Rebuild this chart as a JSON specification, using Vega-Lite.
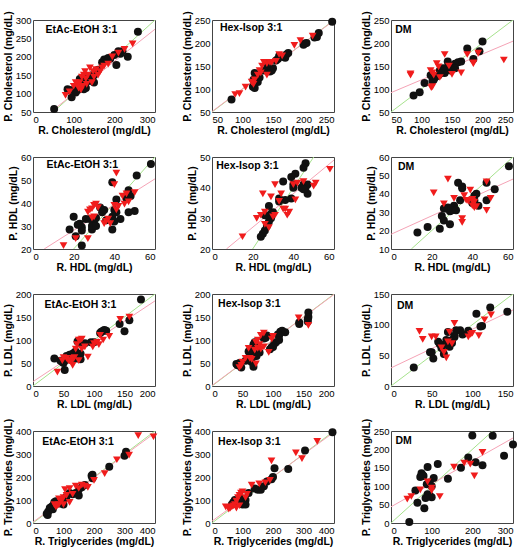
{
"$schema":"https://vega.github.io/schema/vega-lite/v6.json",
"padding":{"left":2,"top":10,"right":2,"bottom":0},
"config":{"view":{"stroke":"#444","strokeWidth":1},"axis":{"grid":false,"domain":false,"ticks":false,"labelPadding":2,"labelFont":"Liberation Sans","labelFontSize":9.5,"labelColor":"#000","titleFont":"Liberation Sans","titleFontSize":10.5,"titleFontWeight":"bold","titleColor":"#000","titlePadding":2}},
"datasets":{
"lines":[
{"p":1,"s":"g","x":50,"y":50},{"p":1,"s":"g","x":300,"y":300},{"p":1,"s":"r","x":43.5,"y":50},{"p":1,"s":"r","x":300,"y":275},
{"p":2,"s":"g","x":50,"y":50},{"p":2,"s":"g","x":250,"y":250},{"p":2,"s":"r","x":50,"y":51},{"p":2,"s":"r","x":250,"y":249},
{"p":3,"s":"g","x":50,"y":50},{"p":3,"s":"g","x":250,"y":250},{"p":3,"s":"r","x":50,"y":92},{"p":3,"s":"r","x":250,"y":204},
{"p":4,"s":"g","x":20,"y":20},{"p":4,"s":"g","x":60,"y":60},{"p":4,"s":"r","x":5.5,"y":20},{"p":4,"s":"r","x":60,"y":50.5},
{"p":5,"s":"g","x":20,"y":20},{"p":5,"s":"g","x":50,"y":50},{"p":5,"s":"r","x":7.1,"y":20},{"p":5,"s":"r","x":60,"y":49},
{"p":6,"s":"g","x":10,"y":10},{"p":6,"s":"g","x":60,"y":60},{"p":6,"s":"r","x":0,"y":18},{"p":6,"s":"r","x":60,"y":48},
{"p":7,"s":"g","x":0,"y":0},{"p":7,"s":"g","x":200,"y":200},{"p":7,"s":"r","x":0,"y":9.5},{"p":7,"s":"r","x":200,"y":185},
{"p":8,"s":"g","x":0,"y":0},{"p":8,"s":"g","x":200,"y":200},{"p":8,"s":"r","x":0,"y":1},{"p":8,"s":"r","x":200,"y":199},
{"p":9,"s":"g","x":0,"y":0},{"p":9,"s":"g","x":150,"y":150},{"p":9,"s":"r","x":0,"y":29.5},{"p":9,"s":"r","x":150,"y":124},
{"p":10,"s":"g","x":0,"y":0},{"p":10,"s":"g","x":400,"y":400},{"p":10,"s":"r","x":0,"y":4},{"p":10,"s":"r","x":400,"y":392},
{"p":11,"s":"g","x":0,"y":0},{"p":11,"s":"g","x":400,"y":400},{"p":11,"s":"r","x":0,"y":8},{"p":11,"s":"r","x":400,"y":395},
{"p":12,"s":"g","x":0,"y":0},{"p":12,"s":"g","x":250,"y":250},{"p":12,"s":"r","x":0,"y":44},{"p":12,"s":"r","x":300,"y":231}
],
"labels":[
{"p":1,"t":"EtAc-EtOH 3:1","x":31,"y":273},{"p":2,"t":"Hex-Isop 3:1","x":63,"y":232},{"p":3,"t":"DM","x":57,"y":228},
{"p":4,"t":"EtAc-EtOH 3:1","x":6.6,"y":56.6},{"p":5,"t":"Hex-Isop 3:1","x":2.1,"y":47.1},{"p":6,"t":"DM","x":3.4,"y":54.8},
{"p":7,"t":"EtAc-EtOH 3:1","x":19,"y":176},{"p":8,"t":"Hex-Isop 3:1","x":10,"y":178},{"p":9,"t":"DM","x":7.4,"y":131},
{"p":10,"t":"EtAc-EtOH 3:1","x":30,"y":352},{"p":11,"t":"Hex-Isop 3:1","x":20,"y":351},{"p":12,"t":"DM","x":11,"y":222}
],
"pts":[
{"p":1,"g":"B","x":258,"y":268},{"p":1,"g":"B","x":233,"y":200},{"p":1,"g":"B","x":205,"y":178},{"p":1,"g":"B","x":210,"y":215},{"p":1,"g":"B","x":215,"y":208},{"p":1,"g":"B","x":200,"y":205},{"p":1,"g":"B","x":190,"y":195},{"p":1,"g":"B","x":175,"y":193},{"p":1,"g":"B","x":180,"y":193},{"p":1,"g":"B","x":185,"y":197},{"p":1,"g":"B","x":170,"y":185},{"p":1,"g":"B","x":155,"y":160},{"p":1,"g":"B","x":150,"y":150},{"p":1,"g":"B","x":145,"y":150},{"p":1,"g":"B","x":140,"y":135},{"p":1,"g":"B","x":130,"y":130},{"p":1,"g":"B","x":125,"y":125},{"p":1,"g":"B","x":120,"y":130},{"p":1,"g":"B","x":115,"y":140},{"p":1,"g":"B","x":110,"y":110},{"p":1,"g":"B","x":105,"y":103},{"p":1,"g":"B","x":95,"y":90},{"p":1,"g":"B","x":85,"y":112},{"p":1,"g":"B","x":90,"y":110},{"p":1,"g":"B","x":135,"y":145},{"p":1,"g":"B","x":140,"y":140},{"p":1,"g":"B","x":125,"y":112},{"p":1,"g":"B","x":115,"y":120},{"p":1,"g":"B","x":160,"y":165},{"p":1,"g":"B","x":150,"y":130},{"p":1,"g":"B","x":130,"y":115},{"p":1,"g":"B","x":120,"y":135},{"p":1,"g":"B","x":100,"y":110},{"p":1,"g":"B","x":220,"y":215},{"p":1,"g":"B","x":52,"y":58},
{"p":1,"g":"R","x":245,"y":235},{"p":1,"g":"R","x":225,"y":220},{"p":1,"g":"R","x":210,"y":210},{"p":1,"g":"R","x":195,"y":200},{"p":1,"g":"R","x":185,"y":180},{"p":1,"g":"R","x":170,"y":170},{"p":1,"g":"R","x":165,"y":160},{"p":1,"g":"R","x":155,"y":165},{"p":1,"g":"R","x":148,"y":160},{"p":1,"g":"R","x":140,"y":170},{"p":1,"g":"R","x":135,"y":150},{"p":1,"g":"R","x":130,"y":140},{"p":1,"g":"R","x":125,"y":150},{"p":1,"g":"R","x":120,"y":145},{"p":1,"g":"R","x":115,"y":130},{"p":1,"g":"R","x":110,"y":125},{"p":1,"g":"R","x":105,"y":130},{"p":1,"g":"R","x":100,"y":120},{"p":1,"g":"R","x":90,"y":105},{"p":1,"g":"R","x":80,"y":95},{"p":1,"g":"R","x":128,"y":160},{"p":1,"g":"R","x":150,"y":145},{"p":1,"g":"R","x":175,"y":175},{"p":1,"g":"R","x":118,"y":110},{"p":1,"g":"R","x":132,"y":125},{"p":1,"g":"R","x":145,"y":130},{"p":1,"g":"R","x":160,"y":150},{"p":1,"g":"R","x":112,"y":115},{"p":1,"g":"R","x":122,"y":120},
{"p":2,"g":"B","x":247,"y":246},{"p":2,"g":"B","x":225,"y":222},{"p":2,"g":"B","x":222,"y":213},{"p":2,"g":"B","x":218,"y":212},{"p":2,"g":"B","x":205,"y":200},{"p":2,"g":"B","x":200,"y":196},{"p":2,"g":"B","x":202,"y":199},{"p":2,"g":"B","x":175,"y":178},{"p":2,"g":"B","x":172,"y":175},{"p":2,"g":"B","x":170,"y":168},{"p":2,"g":"B","x":160,"y":172},{"p":2,"g":"B","x":158,"y":165},{"p":2,"g":"B","x":155,"y":162},{"p":2,"g":"B","x":150,"y":145},{"p":2,"g":"B","x":148,"y":140},{"p":2,"g":"B","x":145,"y":138},{"p":2,"g":"B","x":140,"y":142},{"p":2,"g":"B","x":135,"y":140},{"p":2,"g":"B","x":125,"y":130},{"p":2,"g":"B","x":122,"y":128},{"p":2,"g":"B","x":120,"y":135},{"p":2,"g":"B","x":118,"y":120},{"p":2,"g":"B","x":117,"y":105},{"p":2,"g":"B","x":120,"y":102},{"p":2,"g":"B","x":125,"y":115},{"p":2,"g":"B","x":128,"y":125},{"p":2,"g":"B","x":82,"y":77},{"p":2,"g":"B","x":165,"y":170},{"p":2,"g":"B","x":140,"y":155},
{"p":2,"g":"R","x":215,"y":215},{"p":2,"g":"R","x":195,"y":205},{"p":2,"g":"R","x":185,"y":195},{"p":2,"g":"R","x":165,"y":172},{"p":2,"g":"R","x":160,"y":175},{"p":2,"g":"R","x":155,"y":160},{"p":2,"g":"R","x":148,"y":158},{"p":2,"g":"R","x":140,"y":155},{"p":2,"g":"R","x":135,"y":158},{"p":2,"g":"R","x":132,"y":150},{"p":2,"g":"R","x":130,"y":135},{"p":2,"g":"R","x":128,"y":140},{"p":2,"g":"R","x":125,"y":130},{"p":2,"g":"R","x":120,"y":120},{"p":2,"g":"R","x":118,"y":110},{"p":2,"g":"R","x":115,"y":115},{"p":2,"g":"R","x":105,"y":104},{"p":2,"g":"R","x":95,"y":90},{"p":2,"g":"R","x":88,"y":88},{"p":2,"g":"R","x":140,"y":130},{"p":2,"g":"R","x":145,"y":158},
{"p":3,"g":"B","x":200,"y":203},{"p":3,"g":"B","x":195,"y":182},{"p":3,"g":"B","x":175,"y":188},{"p":3,"g":"B","x":185,"y":165},{"p":3,"g":"B","x":165,"y":160},{"p":3,"g":"B","x":160,"y":158},{"p":3,"g":"B","x":155,"y":155},{"p":3,"g":"B","x":150,"y":150},{"p":3,"g":"B","x":145,"y":148},{"p":3,"g":"B","x":143,"y":160},{"p":3,"g":"B","x":140,"y":145},{"p":3,"g":"B","x":135,"y":145},{"p":3,"g":"B","x":130,"y":140},{"p":3,"g":"B","x":128,"y":130},{"p":3,"g":"B","x":125,"y":128},{"p":3,"g":"B","x":122,"y":125},{"p":3,"g":"B","x":120,"y":120},{"p":3,"g":"B","x":118,"y":118},{"p":3,"g":"B","x":115,"y":130},{"p":3,"g":"B","x":105,"y":113},{"p":3,"g":"B","x":97,"y":93},{"p":3,"g":"B","x":87,"y":86},{"p":3,"g":"B","x":148,"y":140},{"p":3,"g":"B","x":138,"y":135},{"p":3,"g":"B","x":132,"y":135},{"p":3,"g":"B","x":155,"y":145},
{"p":3,"g":"R","x":82,"y":133},{"p":3,"g":"R","x":82,"y":130},{"p":3,"g":"R","x":115,"y":140},{"p":3,"g":"R","x":118,"y":135},{"p":3,"g":"R","x":116,"y":103},{"p":3,"g":"R","x":118,"y":105},{"p":3,"g":"R","x":125,"y":155},{"p":3,"g":"R","x":128,"y":148},{"p":3,"g":"R","x":138,"y":175},{"p":3,"g":"R","x":150,"y":132},{"p":3,"g":"R","x":165,"y":135},{"p":3,"g":"R","x":175,"y":175},{"p":3,"g":"R","x":185,"y":157},{"p":3,"g":"R","x":185,"y":155},{"p":3,"g":"R","x":193,"y":178},{"p":3,"g":"R","x":235,"y":163},{"p":3,"g":"R","x":145,"y":150},{"p":3,"g":"R","x":120,"y":130},{"p":3,"g":"R","x":130,"y":125},
{"p":4,"g":"B","x":58,"y":57},{"p":4,"g":"B","x":51,"y":52},{"p":4,"g":"B","x":47,"y":45.5},{"p":4,"g":"B","x":48,"y":43},{"p":4,"g":"B","x":46,"y":42},{"p":4,"g":"B","x":50,"y":36.5},{"p":4,"g":"B","x":47,"y":36},{"p":4,"g":"B","x":43,"y":33},{"p":4,"g":"B","x":39,"y":49},{"p":4,"g":"B","x":41,"y":41.5},{"p":4,"g":"B","x":40,"y":37},{"p":4,"g":"B","x":41,"y":36},{"p":4,"g":"B","x":39,"y":34},{"p":4,"g":"B","x":40,"y":32},{"p":4,"g":"B","x":39,"y":28.5},{"p":4,"g":"B","x":36,"y":32.5},{"p":4,"g":"B","x":35,"y":37},{"p":4,"g":"B","x":33,"y":38},{"p":4,"g":"B","x":30,"y":32},{"p":4,"g":"B","x":31,"y":33.5},{"p":4,"g":"B","x":29,"y":28.5},{"p":4,"g":"B","x":29,"y":30},{"p":4,"g":"B","x":26,"y":33},{"p":4,"g":"B","x":24,"y":29.5},{"p":4,"g":"B","x":24,"y":28},{"p":4,"g":"B","x":23,"y":31},{"p":4,"g":"B","x":22,"y":30.5},{"p":4,"g":"B","x":20,"y":34},{"p":4,"g":"B","x":21,"y":25.5},{"p":4,"g":"B","x":18,"y":28.5},{"p":4,"g":"B","x":24,"y":21.5},{"p":4,"g":"B","x":31,"y":30},{"p":4,"g":"B","x":28,"y":33},{"p":4,"g":"B","x":34,"y":36},
{"p":4,"g":"R","x":41,"y":53},{"p":4,"g":"R","x":40,"y":48},{"p":4,"g":"R","x":40,"y":39},{"p":4,"g":"R","x":38,"y":31},{"p":4,"g":"R","x":36,"y":32},{"p":4,"g":"R","x":37,"y":33},{"p":4,"g":"R","x":41,"y":37},{"p":4,"g":"R","x":44,"y":43},{"p":4,"g":"R","x":46,"y":44},{"p":4,"g":"R","x":47,"y":40.5},{"p":4,"g":"R","x":45,"y":39.5},{"p":4,"g":"R","x":50,"y":44.5},{"p":4,"g":"R","x":31,"y":39.5},{"p":4,"g":"R","x":30,"y":39},{"p":4,"g":"R","x":29,"y":37.5},{"p":4,"g":"R","x":28,"y":37},{"p":4,"g":"R","x":27,"y":36},{"p":4,"g":"R","x":32,"y":38},{"p":4,"g":"R","x":30,"y":34},{"p":4,"g":"R","x":29,"y":33.5},{"p":4,"g":"R","x":27,"y":24.5},{"p":4,"g":"R","x":21,"y":24.5},{"p":4,"g":"R","x":15,"y":21.5},{"p":4,"g":"R","x":35,"y":31},{"p":4,"g":"R","x":42,"y":38.5},
{"p":5,"g":"B","x":46,"y":48},{"p":5,"g":"B","x":45,"y":46.5},{"p":5,"g":"B","x":41,"y":44.5},{"p":5,"g":"B","x":39,"y":43.5},{"p":5,"g":"B","x":35,"y":42},{"p":5,"g":"B","x":40,"y":41},{"p":5,"g":"B","x":40,"y":40},{"p":5,"g":"B","x":45,"y":41},{"p":5,"g":"B","x":46,"y":40},{"p":5,"g":"B","x":47,"y":41},{"p":5,"g":"B","x":47,"y":38},{"p":5,"g":"B","x":44,"y":40},{"p":5,"g":"B","x":45,"y":39.5},{"p":5,"g":"B","x":39,"y":36.5},{"p":5,"g":"B","x":36,"y":36},{"p":5,"g":"B","x":33,"y":36.5},{"p":5,"g":"B","x":33,"y":35.5},{"p":5,"g":"B","x":30,"y":32},{"p":5,"g":"B","x":29,"y":31.5},{"p":5,"g":"B","x":28,"y":34},{"p":5,"g":"B","x":28,"y":29},{"p":5,"g":"B","x":27,"y":27.5},{"p":5,"g":"B","x":26,"y":26},{"p":5,"g":"B","x":25,"y":25},{"p":5,"g":"B","x":24,"y":24},{"p":5,"g":"B","x":29,"y":30},{"p":5,"g":"B","x":26,"y":31},
{"p":5,"g":"R","x":58,"y":46},{"p":5,"g":"R","x":51,"y":41.5},{"p":5,"g":"R","x":50,"y":40.5},{"p":5,"g":"R","x":45,"y":42},{"p":5,"g":"R","x":42,"y":41.5},{"p":5,"g":"R","x":40,"y":41},{"p":5,"g":"R","x":31,"y":41},{"p":5,"g":"R","x":25,"y":38},{"p":5,"g":"R","x":29,"y":37},{"p":5,"g":"R","x":34,"y":38},{"p":5,"g":"R","x":33,"y":35.5},{"p":5,"g":"R","x":36,"y":33},{"p":5,"g":"R","x":35,"y":33},{"p":5,"g":"R","x":38,"y":32},{"p":5,"g":"R","x":37,"y":31},{"p":5,"g":"R","x":41,"y":36},{"p":5,"g":"R","x":31,"y":31},{"p":5,"g":"R","x":30,"y":30.5},{"p":5,"g":"R","x":26,"y":32},{"p":5,"g":"R","x":24,"y":31},{"p":5,"g":"R","x":22,"y":30},{"p":5,"g":"R","x":26,"y":28},{"p":5,"g":"R","x":28,"y":27},{"p":5,"g":"R","x":15,"y":24},
{"p":6,"g":"B","x":58,"y":55},{"p":6,"g":"B","x":51,"y":42.5},{"p":6,"g":"B","x":47,"y":46},{"p":6,"g":"B","x":47,"y":36.5},{"p":6,"g":"B","x":43,"y":33.5},{"p":6,"g":"B","x":41,"y":39},{"p":6,"g":"B","x":42,"y":40},{"p":6,"g":"B","x":40,"y":36},{"p":6,"g":"B","x":40,"y":35},{"p":6,"g":"B","x":35,"y":44},{"p":6,"g":"B","x":35,"y":43},{"p":6,"g":"B","x":33,"y":46},{"p":6,"g":"B","x":34,"y":36.5},{"p":6,"g":"B","x":31,"y":33.5},{"p":6,"g":"B","x":30,"y":32},{"p":6,"g":"B","x":29,"y":30.5},{"p":6,"g":"B","x":30,"y":31},{"p":6,"g":"B","x":28,"y":32.5},{"p":6,"g":"B","x":27,"y":32},{"p":6,"g":"B","x":26,"y":32},{"p":6,"g":"B","x":25,"y":28},{"p":6,"g":"B","x":26,"y":25.5},{"p":6,"g":"B","x":24,"y":21},{"p":6,"g":"B","x":29,"y":23.5},{"p":6,"g":"B","x":18,"y":22},{"p":6,"g":"B","x":13,"y":19},{"p":6,"g":"B","x":32,"y":31},{"p":6,"g":"B","x":41,"y":36.5},
{"p":6,"g":"R","x":21,"y":40.5},{"p":6,"g":"R","x":28,"y":48},{"p":6,"g":"R","x":26,"y":34.5},{"p":6,"g":"R","x":31,"y":37.5},{"p":6,"g":"R","x":36,"y":39},{"p":6,"g":"R","x":37,"y":36.5},{"p":6,"g":"R","x":39,"y":42},{"p":6,"g":"R","x":40,"y":37},{"p":6,"g":"R","x":40,"y":36},{"p":6,"g":"R","x":41,"y":35.5},{"p":6,"g":"R","x":40,"y":33.5},{"p":6,"g":"R","x":41,"y":32.5},{"p":6,"g":"R","x":35,"y":26.5},{"p":6,"g":"R","x":35,"y":24.5},{"p":6,"g":"R","x":47,"y":46.5},{"p":6,"g":"R","x":49,"y":37.5},{"p":6,"g":"R","x":47,"y":31},{"p":6,"g":"R","x":38,"y":36},{"p":6,"g":"R","x":42,"y":33},
{"p":7,"g":"B","x":177,"y":188},{"p":7,"g":"B","x":158,"y":143},{"p":7,"g":"B","x":150,"y":119},{"p":7,"g":"B","x":142,"y":135},{"p":7,"g":"B","x":120,"y":120},{"p":7,"g":"B","x":117,"y":122},{"p":7,"g":"B","x":115,"y":120},{"p":7,"g":"B","x":112,"y":118},{"p":7,"g":"B","x":110,"y":115},{"p":7,"g":"B","x":100,"y":95},{"p":7,"g":"B","x":95,"y":95},{"p":7,"g":"B","x":85,"y":93},{"p":7,"g":"B","x":80,"y":92},{"p":7,"g":"B","x":78,"y":70},{"p":7,"g":"B","x":75,"y":65},{"p":7,"g":"B","x":73,"y":97},{"p":7,"g":"B","x":70,"y":75},{"p":7,"g":"B","x":68,"y":73},{"p":7,"g":"B","x":65,"y":70},{"p":7,"g":"B","x":62,"y":60},{"p":7,"g":"B","x":60,"y":68},{"p":7,"g":"B","x":55,"y":65},{"p":7,"g":"B","x":52,"y":55},{"p":7,"g":"B","x":50,"y":50},{"p":7,"g":"B","x":48,"y":52},{"p":7,"g":"B","x":45,"y":55},{"p":7,"g":"B","x":52,"y":35},{"p":7,"g":"B","x":35,"y":60},{"p":7,"g":"B","x":72,"y":60},{"p":7,"g":"B","x":78,"y":58},{"p":7,"g":"B","x":62,"y":57},
{"p":7,"g":"R","x":158,"y":150},{"p":7,"g":"R","x":143,"y":145},{"p":7,"g":"R","x":125,"y":108},{"p":7,"g":"R","x":115,"y":100},{"p":7,"g":"R","x":110,"y":110},{"p":7,"g":"R","x":108,"y":90},{"p":7,"g":"R","x":105,"y":95},{"p":7,"g":"R","x":100,"y":92},{"p":7,"g":"R","x":98,"y":85},{"p":7,"g":"R","x":90,"y":63},{"p":7,"g":"R","x":85,"y":85},{"p":7,"g":"R","x":80,"y":80},{"p":7,"g":"R","x":78,"y":100},{"p":7,"g":"R","x":75,"y":100},{"p":7,"g":"R","x":72,"y":90},{"p":7,"g":"R","x":70,"y":80},{"p":7,"g":"R","x":68,"y":62},{"p":7,"g":"R","x":65,"y":60},{"p":7,"g":"R","x":63,"y":52},{"p":7,"g":"R","x":60,"y":55},{"p":7,"g":"R","x":58,"y":55},{"p":7,"g":"R","x":55,"y":60},{"p":7,"g":"R","x":50,"y":62},{"p":7,"g":"R","x":48,"y":55},{"p":7,"g":"R","x":40,"y":30},{"p":7,"g":"R","x":65,"y":45},{"p":7,"g":"R","x":80,"y":102},{"p":7,"g":"R","x":75,"y":55},
{"p":8,"g":"B","x":158,"y":160},{"p":8,"g":"B","x":158,"y":150},{"p":8,"g":"B","x":157,"y":145},{"p":8,"g":"B","x":157,"y":140},{"p":8,"g":"B","x":143,"y":135},{"p":8,"g":"B","x":143,"y":138},{"p":8,"g":"B","x":120,"y":117},{"p":8,"g":"B","x":115,"y":120},{"p":8,"g":"B","x":112,"y":118},{"p":8,"g":"B","x":110,"y":110},{"p":8,"g":"B","x":108,"y":112},{"p":8,"g":"B","x":105,"y":95},{"p":8,"g":"B","x":102,"y":92},{"p":8,"g":"B","x":100,"y":85},{"p":8,"g":"B","x":98,"y":85},{"p":8,"g":"B","x":95,"y":80},{"p":8,"g":"B","x":90,"y":110},{"p":8,"g":"B","x":88,"y":105},{"p":8,"g":"B","x":85,"y":103},{"p":8,"g":"B","x":70,"y":95},{"p":8,"g":"B","x":68,"y":90},{"p":8,"g":"B","x":65,"y":80},{"p":8,"g":"B","x":65,"y":75},{"p":8,"g":"B","x":62,"y":73},{"p":8,"g":"B","x":63,"y":55},{"p":8,"g":"B","x":65,"y":52},{"p":8,"g":"B","x":68,"y":42},{"p":8,"g":"B","x":45,"y":50},{"p":8,"g":"B","x":42,"y":45},{"p":8,"g":"B","x":40,"y":48},{"p":8,"g":"B","x":48,"y":40},{"p":8,"g":"B","x":55,"y":55},{"p":8,"g":"B","x":60,"y":75},{"p":8,"g":"B","x":73,"y":65},{"p":8,"g":"B","x":78,"y":73},{"p":8,"g":"B","x":110,"y":100},
{"p":8,"g":"R","x":158,"y":132},{"p":8,"g":"R","x":142,"y":148},{"p":8,"g":"R","x":100,"y":108},{"p":8,"g":"R","x":98,"y":102},{"p":8,"g":"R","x":85,"y":115},{"p":8,"g":"R","x":80,"y":110},{"p":8,"g":"R","x":75,"y":100},{"p":8,"g":"R","x":72,"y":95},{"p":8,"g":"R","x":78,"y":90},{"p":8,"g":"R","x":75,"y":82},{"p":8,"g":"R","x":70,"y":78},{"p":8,"g":"R","x":80,"y":80},{"p":8,"g":"R","x":93,"y":73},{"p":8,"g":"R","x":60,"y":82},{"p":8,"g":"R","x":55,"y":60},{"p":8,"g":"R","x":50,"y":52},{"p":8,"g":"R","x":48,"y":45},{"p":8,"g":"R","x":45,"y":40},{"p":8,"g":"R","x":72,"y":48},{"p":8,"g":"R","x":62,"y":60},{"p":8,"g":"R","x":65,"y":58},{"p":8,"g":"R","x":85,"y":85},
{"p":9,"g":"B","x":143,"y":121},{"p":9,"g":"B","x":122,"y":128},{"p":9,"g":"B","x":112,"y":98},{"p":9,"g":"B","x":110,"y":97},{"p":9,"g":"B","x":105,"y":118},{"p":9,"g":"B","x":95,"y":90},{"p":9,"g":"B","x":88,"y":84},{"p":9,"g":"B","x":85,"y":91},{"p":9,"g":"B","x":80,"y":91},{"p":9,"g":"B","x":78,"y":80},{"p":9,"g":"B","x":78,"y":82},{"p":9,"g":"B","x":75,"y":75},{"p":9,"g":"B","x":72,"y":64},{"p":9,"g":"B","x":70,"y":88},{"p":9,"g":"B","x":68,"y":75},{"p":9,"g":"B","x":65,"y":67},{"p":9,"g":"B","x":62,"y":62},{"p":9,"g":"B","x":60,"y":68},{"p":9,"g":"B","x":58,"y":72},{"p":9,"g":"B","x":50,"y":55},{"p":9,"g":"B","x":48,"y":55},{"p":9,"g":"B","x":52,"y":45},{"p":9,"g":"B","x":28,"y":30},{"p":9,"g":"B","x":65,"y":52},{"p":9,"g":"B","x":75,"y":70},
{"p":9,"g":"R","x":35,"y":89},{"p":9,"g":"R","x":39,"y":76},{"p":9,"g":"R","x":50,"y":80},{"p":9,"g":"R","x":55,"y":80},{"p":9,"g":"R","x":62,"y":62},{"p":9,"g":"R","x":65,"y":55},{"p":9,"g":"R","x":68,"y":46},{"p":9,"g":"R","x":70,"y":72},{"p":9,"g":"R","x":72,"y":88},{"p":9,"g":"R","x":78,"y":102},{"p":9,"g":"R","x":95,"y":80},{"p":9,"g":"R","x":100,"y":86},{"p":9,"g":"R","x":98,"y":84},{"p":9,"g":"R","x":108,"y":82},{"p":9,"g":"R","x":115,"y":108},{"p":9,"g":"R","x":123,"y":116},{"p":9,"g":"R","x":75,"y":69},
{"p":10,"g":"B","x":305,"y":310},{"p":10,"g":"B","x":300,"y":292},{"p":10,"g":"B","x":250,"y":245},{"p":10,"g":"B","x":195,"y":210},{"p":10,"g":"B","x":192,"y":205},{"p":10,"g":"B","x":195,"y":195},{"p":10,"g":"B","x":170,"y":165},{"p":10,"g":"B","x":160,"y":155},{"p":10,"g":"B","x":150,"y":145},{"p":10,"g":"B","x":140,"y":130},{"p":10,"g":"B","x":130,"y":125},{"p":10,"g":"B","x":120,"y":130},{"p":10,"g":"B","x":110,"y":115},{"p":10,"g":"B","x":100,"y":100},{"p":10,"g":"B","x":95,"y":95},{"p":10,"g":"B","x":90,"y":85},{"p":10,"g":"B","x":80,"y":85},{"p":10,"g":"B","x":75,"y":95},{"p":10,"g":"B","x":70,"y":90},{"p":10,"g":"B","x":65,"y":75},{"p":10,"g":"B","x":60,"y":70},{"p":10,"g":"B","x":55,"y":65},{"p":10,"g":"B","x":50,"y":50},{"p":10,"g":"B","x":45,"y":40},{"p":10,"g":"B","x":48,"y":35},{"p":10,"g":"B","x":65,"y":60},{"p":10,"g":"B","x":100,"y":80},{"p":10,"g":"B","x":150,"y":120},
{"p":10,"g":"R","x":395,"y":375},{"p":10,"g":"R","x":345,"y":380},{"p":10,"g":"R","x":315,"y":295},{"p":10,"g":"R","x":275,"y":275},{"p":10,"g":"R","x":235,"y":215},{"p":10,"g":"R","x":200,"y":185},{"p":10,"g":"R","x":180,"y":155},{"p":10,"g":"R","x":170,"y":160},{"p":10,"g":"R","x":140,"y":160},{"p":10,"g":"R","x":130,"y":125},{"p":10,"g":"R","x":120,"y":150},{"p":10,"g":"R","x":110,"y":120},{"p":10,"g":"R","x":105,"y":145},{"p":10,"g":"R","x":100,"y":110},{"p":10,"g":"R","x":95,"y":100},{"p":10,"g":"R","x":90,"y":95},{"p":10,"g":"R","x":85,"y":80},{"p":10,"g":"R","x":80,"y":75},{"p":10,"g":"R","x":75,"y":70},{"p":10,"g":"R","x":120,"y":90},{"p":10,"g":"R","x":70,"y":80},{"p":10,"g":"R","x":150,"y":150},{"p":10,"g":"R","x":160,"y":165},{"p":10,"g":"R","x":85,"y":105},{"p":10,"g":"R","x":100,"y":80},
{"p":11,"g":"B","x":395,"y":395},{"p":11,"g":"B","x":305,"y":315},{"p":11,"g":"B","x":250,"y":235},{"p":11,"g":"B","x":205,"y":238},{"p":11,"g":"B","x":200,"y":200},{"p":11,"g":"B","x":195,"y":190},{"p":11,"g":"B","x":180,"y":180},{"p":11,"g":"B","x":170,"y":160},{"p":11,"g":"B","x":160,"y":145},{"p":11,"g":"B","x":150,"y":145},{"p":11,"g":"B","x":140,"y":150},{"p":11,"g":"B","x":120,"y":130},{"p":11,"g":"B","x":110,"y":100},{"p":11,"g":"B","x":105,"y":95},{"p":11,"g":"B","x":100,"y":90},{"p":11,"g":"B","x":100,"y":80},{"p":11,"g":"B","x":95,"y":85},{"p":11,"g":"B","x":90,"y":100},{"p":11,"g":"B","x":80,"y":90},{"p":11,"g":"B","x":75,"y":100},{"p":11,"g":"B","x":70,"y":90},{"p":11,"g":"B","x":65,"y":80},{"p":11,"g":"B","x":90,"y":110},{"p":11,"g":"B","x":110,"y":80},
{"p":11,"g":"R","x":345,"y":355},{"p":11,"g":"R","x":295,"y":280},{"p":11,"g":"R","x":275,"y":305},{"p":11,"g":"R","x":195,"y":270},{"p":11,"g":"R","x":190,"y":185},{"p":11,"g":"R","x":175,"y":175},{"p":11,"g":"R","x":155,"y":170},{"p":11,"g":"R","x":130,"y":165},{"p":11,"g":"R","x":115,"y":125},{"p":11,"g":"R","x":110,"y":110},{"p":11,"g":"R","x":100,"y":135},{"p":11,"g":"R","x":95,"y":130},{"p":11,"g":"R","x":90,"y":120},{"p":11,"g":"R","x":85,"y":110},{"p":11,"g":"R","x":80,"y":95},{"p":11,"g":"R","x":75,"y":80},{"p":11,"g":"R","x":70,"y":75},{"p":11,"g":"R","x":65,"y":70},{"p":11,"g":"R","x":60,"y":65},{"p":11,"g":"R","x":45,"y":70},{"p":11,"g":"R","x":55,"y":60},{"p":11,"g":"R","x":80,"y":65},{"p":11,"g":"R","x":90,"y":75},
{"p":12,"g":"B","x":300,"y":213},{"p":12,"g":"B","x":278,"y":183},{"p":12,"g":"B","x":250,"y":237},{"p":12,"g":"B","x":200,"y":238},{"p":12,"g":"B","x":208,"y":165},{"p":12,"g":"B","x":225,"y":157},{"p":12,"g":"B","x":190,"y":178},{"p":12,"g":"B","x":172,"y":150},{"p":12,"g":"B","x":140,"y":120},{"p":12,"g":"B","x":115,"y":160},{"p":12,"g":"B","x":105,"y":122},{"p":12,"g":"B","x":90,"y":152},{"p":12,"g":"B","x":75,"y":135},{"p":12,"g":"B","x":78,"y":130},{"p":12,"g":"B","x":72,"y":125},{"p":12,"g":"B","x":80,"y":128},{"p":12,"g":"B","x":95,"y":110},{"p":12,"g":"B","x":88,"y":105},{"p":12,"g":"B","x":90,"y":78},{"p":12,"g":"B","x":95,"y":75},{"p":12,"g":"B","x":100,"y":70},{"p":12,"g":"B","x":85,"y":68},{"p":12,"g":"B","x":82,"y":40},{"p":12,"g":"B","x":65,"y":55},{"p":12,"g":"B","x":60,"y":88},{"p":12,"g":"B","x":45,"y":3},{"p":12,"g":"B","x":100,"y":100},
{"p":12,"g":"R","x":40,"y":65},{"p":12,"g":"R","x":50,"y":72},{"p":12,"g":"R","x":72,"y":90},{"p":12,"g":"R","x":90,"y":112},{"p":12,"g":"R","x":100,"y":95},{"p":12,"g":"R","x":100,"y":88},{"p":12,"g":"R","x":120,"y":72},{"p":12,"g":"R","x":155,"y":152},{"p":12,"g":"R","x":180,"y":163},{"p":12,"g":"R","x":195,"y":160},{"p":12,"g":"R","x":205,"y":128},{"p":12,"g":"R","x":225,"y":192}
]
},
"columns":3,
"bounds":"flush",
"spacing":{"row":45,"column":57},
"concat":[
{"width":122,"height":92,"encoding":{"x":{"field":"x","type":"quantitative","scale":{"domain":[0,300],"nice":false,"zero":false},"axis":{"values":[0,100,200,300],"title":"R. Cholesterol (mg/dL)"}},"y":{"field":"y","type":"quantitative","scale":{"domain":[50,300],"nice":false,"zero":false},"axis":{"values":[50,100,150,200,250,300],"title":"P. Cholesterol (mg/dL)"}}},
"layer":[
{"data":{"name":"lines"},"transform":[{"filter":"datum.p==1"}],"mark":{"type":"line","clip":true,"strokeWidth":1},"encoding":{"stroke":{"field":"s","type":"nominal","scale":{"domain":["g","r"],"range":["#a6e28c","#f5a3b6"]},"legend":null}}},
{"data":{"name":"pts"},"transform":[{"filter":"datum.p==1 && datum.g=='B'"}],"mark":{"type":"point","shape":"circle","filled":true,"color":"#111","opacity":1,"size":64}},
{"data":{"name":"pts"},"transform":[{"filter":"datum.p==1 && datum.g=='R'"}],"mark":{"type":"point","shape":"triangle-down","filled":true,"color":"#f01c1c","opacity":1,"size":60}},
{"data":{"name":"labels"},"transform":[{"filter":"datum.p==1"}],"mark":{"type":"text","align":"left","baseline":"middle","fontWeight":"bold","fontSize":10.5,"font":"Liberation Sans"},"encoding":{"text":{"field":"t"}}}
]},
{"width":122,"height":92,"encoding":{"x":{"field":"x","type":"quantitative","scale":{"domain":[50,250],"nice":false,"zero":false},"axis":{"values":[50,100,150,200,250],"title":"R. Cholesterol (mg/dL)"}},"y":{"field":"y","type":"quantitative","scale":{"domain":[50,250],"nice":false,"zero":false},"axis":{"values":[50,100,150,200,250],"title":"P. Cholesterol (mg/dL)"}}},
"layer":[
{"data":{"name":"lines"},"transform":[{"filter":"datum.p==2"}],"mark":{"type":"line","clip":true,"strokeWidth":1},"encoding":{"stroke":{"field":"s","type":"nominal","scale":{"domain":["g","r"],"range":["#a6e28c","#f5a3b6"]},"legend":null}}},
{"data":{"name":"pts"},"transform":[{"filter":"datum.p==2 && datum.g=='B'"}],"mark":{"type":"point","shape":"circle","filled":true,"color":"#111","opacity":1,"size":64}},
{"data":{"name":"pts"},"transform":[{"filter":"datum.p==2 && datum.g=='R'"}],"mark":{"type":"point","shape":"triangle-down","filled":true,"color":"#f01c1c","opacity":1,"size":60}},
{"data":{"name":"labels"},"transform":[{"filter":"datum.p==2"}],"mark":{"type":"text","align":"left","baseline":"middle","fontWeight":"bold","fontSize":10.5,"font":"Liberation Sans"},"encoding":{"text":{"field":"t"}}}
]},
{"width":122,"height":92,"encoding":{"x":{"field":"x","type":"quantitative","scale":{"domain":[50,250],"nice":false,"zero":false},"axis":{"values":[50,100,150,200,250],"title":"R. Cholesterol (mg/dL)"}},"y":{"field":"y","type":"quantitative","scale":{"domain":[50,250],"nice":false,"zero":false},"axis":{"values":[50,100,150,200,250],"title":"P. Cholesterol (mg/dL)"}}},
"layer":[
{"data":{"name":"lines"},"transform":[{"filter":"datum.p==3"}],"mark":{"type":"line","clip":true,"strokeWidth":1},"encoding":{"stroke":{"field":"s","type":"nominal","scale":{"domain":["g","r"],"range":["#a6e28c","#f5a3b6"]},"legend":null}}},
{"data":{"name":"pts"},"transform":[{"filter":"datum.p==3 && datum.g=='B'"}],"mark":{"type":"point","shape":"circle","filled":true,"color":"#111","opacity":1,"size":64}},
{"data":{"name":"pts"},"transform":[{"filter":"datum.p==3 && datum.g=='R'"}],"mark":{"type":"point","shape":"triangle-down","filled":true,"color":"#f01c1c","opacity":1,"size":60}},
{"data":{"name":"labels"},"transform":[{"filter":"datum.p==3"}],"mark":{"type":"text","align":"left","baseline":"middle","fontWeight":"bold","fontSize":10.5,"font":"Liberation Sans"},"encoding":{"text":{"field":"t"}}}
]},
{"width":122,"height":92,"encoding":{"x":{"field":"x","type":"quantitative","scale":{"domain":[0,60],"nice":false,"zero":false},"axis":{"values":[0,20,40,60],"title":"R. HDL (mg/dL)"}},"y":{"field":"y","type":"quantitative","scale":{"domain":[20,60],"nice":false,"zero":false},"axis":{"values":[20,30,40,50,60],"title":"P. HDL (mg/dL)"}}},
"layer":[
{"data":{"name":"lines"},"transform":[{"filter":"datum.p==4"}],"mark":{"type":"line","clip":true,"strokeWidth":1},"encoding":{"stroke":{"field":"s","type":"nominal","scale":{"domain":["g","r"],"range":["#a6e28c","#f5a3b6"]},"legend":null}}},
{"data":{"name":"pts"},"transform":[{"filter":"datum.p==4 && datum.g=='B'"}],"mark":{"type":"point","shape":"circle","filled":true,"color":"#111","opacity":1,"size":64}},
{"data":{"name":"pts"},"transform":[{"filter":"datum.p==4 && datum.g=='R'"}],"mark":{"type":"point","shape":"triangle-down","filled":true,"color":"#f01c1c","opacity":1,"size":60}},
{"data":{"name":"labels"},"transform":[{"filter":"datum.p==4"}],"mark":{"type":"text","align":"left","baseline":"middle","fontWeight":"bold","fontSize":10.5,"font":"Liberation Sans"},"encoding":{"text":{"field":"t"}}}
]},
{"width":122,"height":92,"encoding":{"x":{"field":"x","type":"quantitative","scale":{"domain":[0,60],"nice":false,"zero":false},"axis":{"values":[0,20,40,60],"title":"R. HDL (mg/dL)"}},"y":{"field":"y","type":"quantitative","scale":{"domain":[20,50],"nice":false,"zero":false},"axis":{"values":[20,30,40,50],"title":"P. HDL (mg/dL)"}}},
"layer":[
{"data":{"name":"lines"},"transform":[{"filter":"datum.p==5"}],"mark":{"type":"line","clip":true,"strokeWidth":1},"encoding":{"stroke":{"field":"s","type":"nominal","scale":{"domain":["g","r"],"range":["#a6e28c","#f5a3b6"]},"legend":null}}},
{"data":{"name":"pts"},"transform":[{"filter":"datum.p==5 && datum.g=='B'"}],"mark":{"type":"point","shape":"circle","filled":true,"color":"#111","opacity":1,"size":64}},
{"data":{"name":"pts"},"transform":[{"filter":"datum.p==5 && datum.g=='R'"}],"mark":{"type":"point","shape":"triangle-down","filled":true,"color":"#f01c1c","opacity":1,"size":60}},
{"data":{"name":"labels"},"transform":[{"filter":"datum.p==5"}],"mark":{"type":"text","align":"left","baseline":"middle","fontWeight":"bold","fontSize":10.5,"font":"Liberation Sans"},"encoding":{"text":{"field":"t"}}}
]},
{"width":122,"height":92,"encoding":{"x":{"field":"x","type":"quantitative","scale":{"domain":[0,60],"nice":false,"zero":false},"axis":{"values":[0,20,40,60],"title":"R. HDL (mg/dL)"}},"y":{"field":"y","type":"quantitative","scale":{"domain":[10,60],"nice":false,"zero":false},"axis":{"values":[10,20,30,40,50,60],"title":"P. HDL (mg/dL)"}}},
"layer":[
{"data":{"name":"lines"},"transform":[{"filter":"datum.p==6"}],"mark":{"type":"line","clip":true,"strokeWidth":1},"encoding":{"stroke":{"field":"s","type":"nominal","scale":{"domain":["g","r"],"range":["#a6e28c","#f5a3b6"]},"legend":null}}},
{"data":{"name":"pts"},"transform":[{"filter":"datum.p==6 && datum.g=='B'"}],"mark":{"type":"point","shape":"circle","filled":true,"color":"#111","opacity":1,"size":64}},
{"data":{"name":"pts"},"transform":[{"filter":"datum.p==6 && datum.g=='R'"}],"mark":{"type":"point","shape":"triangle-down","filled":true,"color":"#f01c1c","opacity":1,"size":60}},
{"data":{"name":"labels"},"transform":[{"filter":"datum.p==6"}],"mark":{"type":"text","align":"left","baseline":"middle","fontWeight":"bold","fontSize":10.5,"font":"Liberation Sans"},"encoding":{"text":{"field":"t"}}}
]},
{"width":122,"height":92,"encoding":{"x":{"field":"x","type":"quantitative","scale":{"domain":[0,200],"nice":false,"zero":false},"axis":{"values":[0,50,100,150,200],"title":"R. LDL (mg/dL)"}},"y":{"field":"y","type":"quantitative","scale":{"domain":[0,200],"nice":false,"zero":false},"axis":{"values":[0,50,100,150,200],"title":"P. LDL (mg/dL)"}}},
"layer":[
{"data":{"name":"lines"},"transform":[{"filter":"datum.p==7"}],"mark":{"type":"line","clip":true,"strokeWidth":1},"encoding":{"stroke":{"field":"s","type":"nominal","scale":{"domain":["g","r"],"range":["#a6e28c","#f5a3b6"]},"legend":null}}},
{"data":{"name":"pts"},"transform":[{"filter":"datum.p==7 && datum.g=='B'"}],"mark":{"type":"point","shape":"circle","filled":true,"color":"#111","opacity":1,"size":64}},
{"data":{"name":"pts"},"transform":[{"filter":"datum.p==7 && datum.g=='R'"}],"mark":{"type":"point","shape":"triangle-down","filled":true,"color":"#f01c1c","opacity":1,"size":60}},
{"data":{"name":"labels"},"transform":[{"filter":"datum.p==7"}],"mark":{"type":"text","align":"left","baseline":"middle","fontWeight":"bold","fontSize":10.5,"font":"Liberation Sans"},"encoding":{"text":{"field":"t"}}}
]},
{"width":122,"height":92,"encoding":{"x":{"field":"x","type":"quantitative","scale":{"domain":[0,200],"nice":false,"zero":false},"axis":{"values":[0,50,100,150,200],"title":"R. LDL (mg/dL)"}},"y":{"field":"y","type":"quantitative","scale":{"domain":[0,200],"nice":false,"zero":false},"axis":{"values":[0,50,100,150,200],"title":"P. LDL (mg/dL)"}}},
"layer":[
{"data":{"name":"lines"},"transform":[{"filter":"datum.p==8"}],"mark":{"type":"line","clip":true,"strokeWidth":1},"encoding":{"stroke":{"field":"s","type":"nominal","scale":{"domain":["g","r"],"range":["#a6e28c","#f5a3b6"]},"legend":null}}},
{"data":{"name":"pts"},"transform":[{"filter":"datum.p==8 && datum.g=='B'"}],"mark":{"type":"point","shape":"circle","filled":true,"color":"#111","opacity":1,"size":64}},
{"data":{"name":"pts"},"transform":[{"filter":"datum.p==8 && datum.g=='R'"}],"mark":{"type":"point","shape":"triangle-down","filled":true,"color":"#f01c1c","opacity":1,"size":60}},
{"data":{"name":"labels"},"transform":[{"filter":"datum.p==8"}],"mark":{"type":"text","align":"left","baseline":"middle","fontWeight":"bold","fontSize":10.5,"font":"Liberation Sans"},"encoding":{"text":{"field":"t"}}}
]},
{"width":122,"height":92,"encoding":{"x":{"field":"x","type":"quantitative","scale":{"domain":[0,150],"nice":false,"zero":false},"axis":{"values":[0,50,100,150],"title":"R. LDL (mg/dL)"}},"y":{"field":"y","type":"quantitative","scale":{"domain":[0,150],"nice":false,"zero":false},"axis":{"values":[0,50,100,150],"title":"P. LDL (mg/dL)"}}},
"layer":[
{"data":{"name":"lines"},"transform":[{"filter":"datum.p==9"}],"mark":{"type":"line","clip":true,"strokeWidth":1},"encoding":{"stroke":{"field":"s","type":"nominal","scale":{"domain":["g","r"],"range":["#a6e28c","#f5a3b6"]},"legend":null}}},
{"data":{"name":"pts"},"transform":[{"filter":"datum.p==9 && datum.g=='B'"}],"mark":{"type":"point","shape":"circle","filled":true,"color":"#111","opacity":1,"size":64}},
{"data":{"name":"pts"},"transform":[{"filter":"datum.p==9 && datum.g=='R'"}],"mark":{"type":"point","shape":"triangle-down","filled":true,"color":"#f01c1c","opacity":1,"size":60}},
{"data":{"name":"labels"},"transform":[{"filter":"datum.p==9"}],"mark":{"type":"text","align":"left","baseline":"middle","fontWeight":"bold","fontSize":10.5,"font":"Liberation Sans"},"encoding":{"text":{"field":"t"}}}
]},
{"width":122,"height":92,"encoding":{"x":{"field":"x","type":"quantitative","scale":{"domain":[0,400],"nice":false,"zero":false},"axis":{"values":[0,100,200,300,400],"title":"R. Triglycerides (mg/dL)"}},"y":{"field":"y","type":"quantitative","scale":{"domain":[0,400],"nice":false,"zero":false},"axis":{"values":[0,100,200,300,400],"title":"P. Triglycerides (mg/dL)"}}},
"layer":[
{"data":{"name":"lines"},"transform":[{"filter":"datum.p==10"}],"mark":{"type":"line","clip":true,"strokeWidth":1},"encoding":{"stroke":{"field":"s","type":"nominal","scale":{"domain":["g","r"],"range":["#a6e28c","#f5a3b6"]},"legend":null}}},
{"data":{"name":"pts"},"transform":[{"filter":"datum.p==10 && datum.g=='B'"}],"mark":{"type":"point","shape":"circle","filled":true,"color":"#111","opacity":1,"size":64}},
{"data":{"name":"pts"},"transform":[{"filter":"datum.p==10 && datum.g=='R'"}],"mark":{"type":"point","shape":"triangle-down","filled":true,"color":"#f01c1c","opacity":1,"size":60}},
{"data":{"name":"labels"},"transform":[{"filter":"datum.p==10"}],"mark":{"type":"text","align":"left","baseline":"middle","fontWeight":"bold","fontSize":10.5,"font":"Liberation Sans"},"encoding":{"text":{"field":"t"}}}
]},
{"width":122,"height":92,"encoding":{"x":{"field":"x","type":"quantitative","scale":{"domain":[0,400],"nice":false,"zero":false},"axis":{"values":[0,100,200,300,400],"title":"R. Triglycerides (mg/dL)"}},"y":{"field":"y","type":"quantitative","scale":{"domain":[0,400],"nice":false,"zero":false},"axis":{"values":[0,100,200,300,400],"title":"P. Triglycerides (mg/dL)"}}},
"layer":[
{"data":{"name":"lines"},"transform":[{"filter":"datum.p==11"}],"mark":{"type":"line","clip":true,"strokeWidth":1},"encoding":{"stroke":{"field":"s","type":"nominal","scale":{"domain":["g","r"],"range":["#a6e28c","#f5a3b6"]},"legend":null}}},
{"data":{"name":"pts"},"transform":[{"filter":"datum.p==11 && datum.g=='B'"}],"mark":{"type":"point","shape":"circle","filled":true,"color":"#111","opacity":1,"size":64}},
{"data":{"name":"pts"},"transform":[{"filter":"datum.p==11 && datum.g=='R'"}],"mark":{"type":"point","shape":"triangle-down","filled":true,"color":"#f01c1c","opacity":1,"size":60}},
{"data":{"name":"labels"},"transform":[{"filter":"datum.p==11"}],"mark":{"type":"text","align":"left","baseline":"middle","fontWeight":"bold","fontSize":10.5,"font":"Liberation Sans"},"encoding":{"text":{"field":"t"}}}
]},
{"width":122,"height":92,"encoding":{"x":{"field":"x","type":"quantitative","scale":{"domain":[0,300],"nice":false,"zero":false},"axis":{"values":[0,100,200,300],"title":"R. Triglycerides (mg/dL)"}},"y":{"field":"y","type":"quantitative","scale":{"domain":[0,250],"nice":false,"zero":false},"axis":{"values":[0,50,100,150,200,250],"title":"P. Triglycerides (mg/dL)"}}},
"layer":[
{"data":{"name":"lines"},"transform":[{"filter":"datum.p==12"}],"mark":{"type":"line","clip":true,"strokeWidth":1},"encoding":{"stroke":{"field":"s","type":"nominal","scale":{"domain":["g","r"],"range":["#a6e28c","#f5a3b6"]},"legend":null}}},
{"data":{"name":"pts"},"transform":[{"filter":"datum.p==12 && datum.g=='B'"}],"mark":{"type":"point","shape":"circle","filled":true,"color":"#111","opacity":1,"size":64}},
{"data":{"name":"pts"},"transform":[{"filter":"datum.p==12 && datum.g=='R'"}],"mark":{"type":"point","shape":"triangle-down","filled":true,"color":"#f01c1c","opacity":1,"size":60}},
{"data":{"name":"labels"},"transform":[{"filter":"datum.p==12"}],"mark":{"type":"text","align":"left","baseline":"middle","fontWeight":"bold","fontSize":10.5,"font":"Liberation Sans"},"encoding":{"text":{"field":"t"}}}
]}
]
}
